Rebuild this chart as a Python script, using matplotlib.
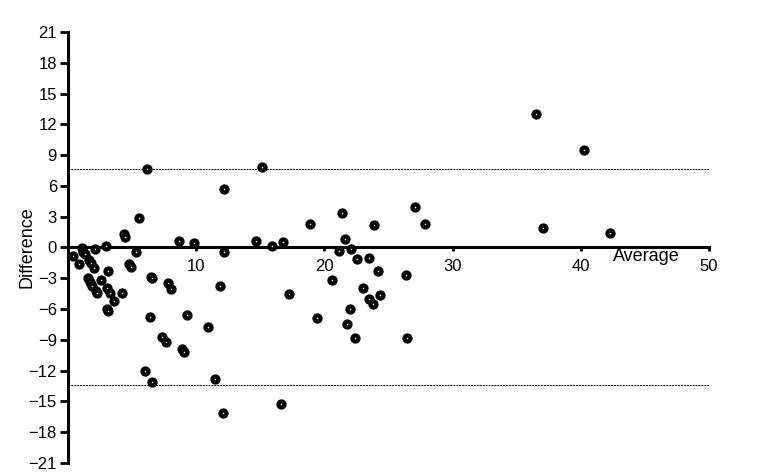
import numpy as np
import matplotlib.pyplot as plt

# mean of the two methods vs their difference (Bland-Altman)
average = [0.42, 0.86, 1.09, 1.2, 1.33, 1.64, 1.8, 2.03, 2.1, 2.97,
           3.15, 1.54, 1.72, 1.9, 2.19, 2.29, 2.6, 3.05, 3.28, 3.6,
           3.05, 3.15, 4.19, 4.37, 4.45, 4.79, 4.95, 5.29, 5.57, 6.15,
           6.46, 6.53, 6.41, 6.02, 6.56, 7.37, 7.63, 7.79, 8.04, 8.69,
           8.9, 9.08, 9.31, 9.81, 10.9, 11.45, 11.89, 12.2, 12.12, 12.2,
           14.7, 15.11, 15.92, 16.77, 16.64, 17.27, 18.88, 19.45, 20.59, 21.37,
           21.6, 21.16, 22.07, 22.54, 23.5, 23.89, 24.15, 26.36, 27.04, 27.87,
           22.02, 21.76, 22.41, 22.98, 23.5, 23.76, 24.36, 26.41, 36.47, 40.26,
           37.09, 42.31]
difference = [-0.83, -1.64, -0.08, -0.4, -0.67, -1.22, -1.48, -2.03, -0.18, 0.15,
              -2.26, -3.0, -3.33, -3.72, -4.21, -4.4, -3.17, -3.98, -4.4, -5.19,
              -6.03, -6.2, -4.4, 1.29, 1.05, -1.61, -1.87, -0.47, 2.85, 7.67,
              -2.84, -3.0, -6.78, -12.04, -13.08, -8.75, -9.18, -3.49, -4.07, 0.64,
              -9.86, -10.15, -6.58, 0.41, -7.79, -12.86, -3.75, -0.4, -16.17, 5.68,
              0.64, 7.8, 0.19, 0.52, -15.26, -4.5, 2.3, -6.87, -3.2, 3.35,
              0.81, -0.3, -0.1, -1.08, -0.98, 2.2, -2.25, -2.7, 3.93, 2.3,
              -6.0, -7.45, -8.79, -3.92, -4.99, -5.47, -4.66, -8.79, 13.05, 9.46,
              1.9, 1.38]
upper_loa = 7.64
lower_loa = -13.43

plt.rcParams['font.family'] = ['Liberation Sans', 'DejaVu Sans']

fig = plt.figure(figsize=(7.68, 4.75), dpi=100)
ax = fig.add_axes([68 / 768, 1 - 463 / 475, 641 / 768, 431 / 475])

ax.plot(average, difference, linestyle='none', marker='o', markersize=4.3,
        markerfacecolor='white', markeredgecolor='black', markeredgewidth=3.1,
        zorder=3)

ax.axhline(upper_loa, color='black', linewidth=0.7, linestyle=(0, (2, 1)))
ax.axhline(lower_loa, color='black', linewidth=0.7, linestyle=(0, (2, 1)))

ax.set_xlim(0, 50)
ax.set_ylim(-21, 21)
ax.set_yticks(np.arange(-21, 22, 3))
ax.set_xticks([10, 20, 30, 40, 50])

ax.spines['left'].set_position(('data', 0))
ax.spines['bottom'].set_position(('data', 0))
ax.spines['top'].set_visible(False)
ax.spines['right'].set_visible(False)
for s in ['left', 'bottom']:
    ax.spines[s].set_linewidth(2.2)

ax.tick_params(axis='y', direction='out', length=6, width=2, labelsize=12, pad=2)
ax.tick_params(axis='x', direction='out', length=3, width=2, labelsize=12, pad=5)

# label sits right against the tick labels in the original
ax.set_ylabel('Difference', fontsize=13)
ax.yaxis.set_label_coords(-0.051, 0.5)
ax.text(42.5, -0.9, 'Average', fontsize=13, va='center', ha='left')

fig.savefig('out.png', dpi=100)
